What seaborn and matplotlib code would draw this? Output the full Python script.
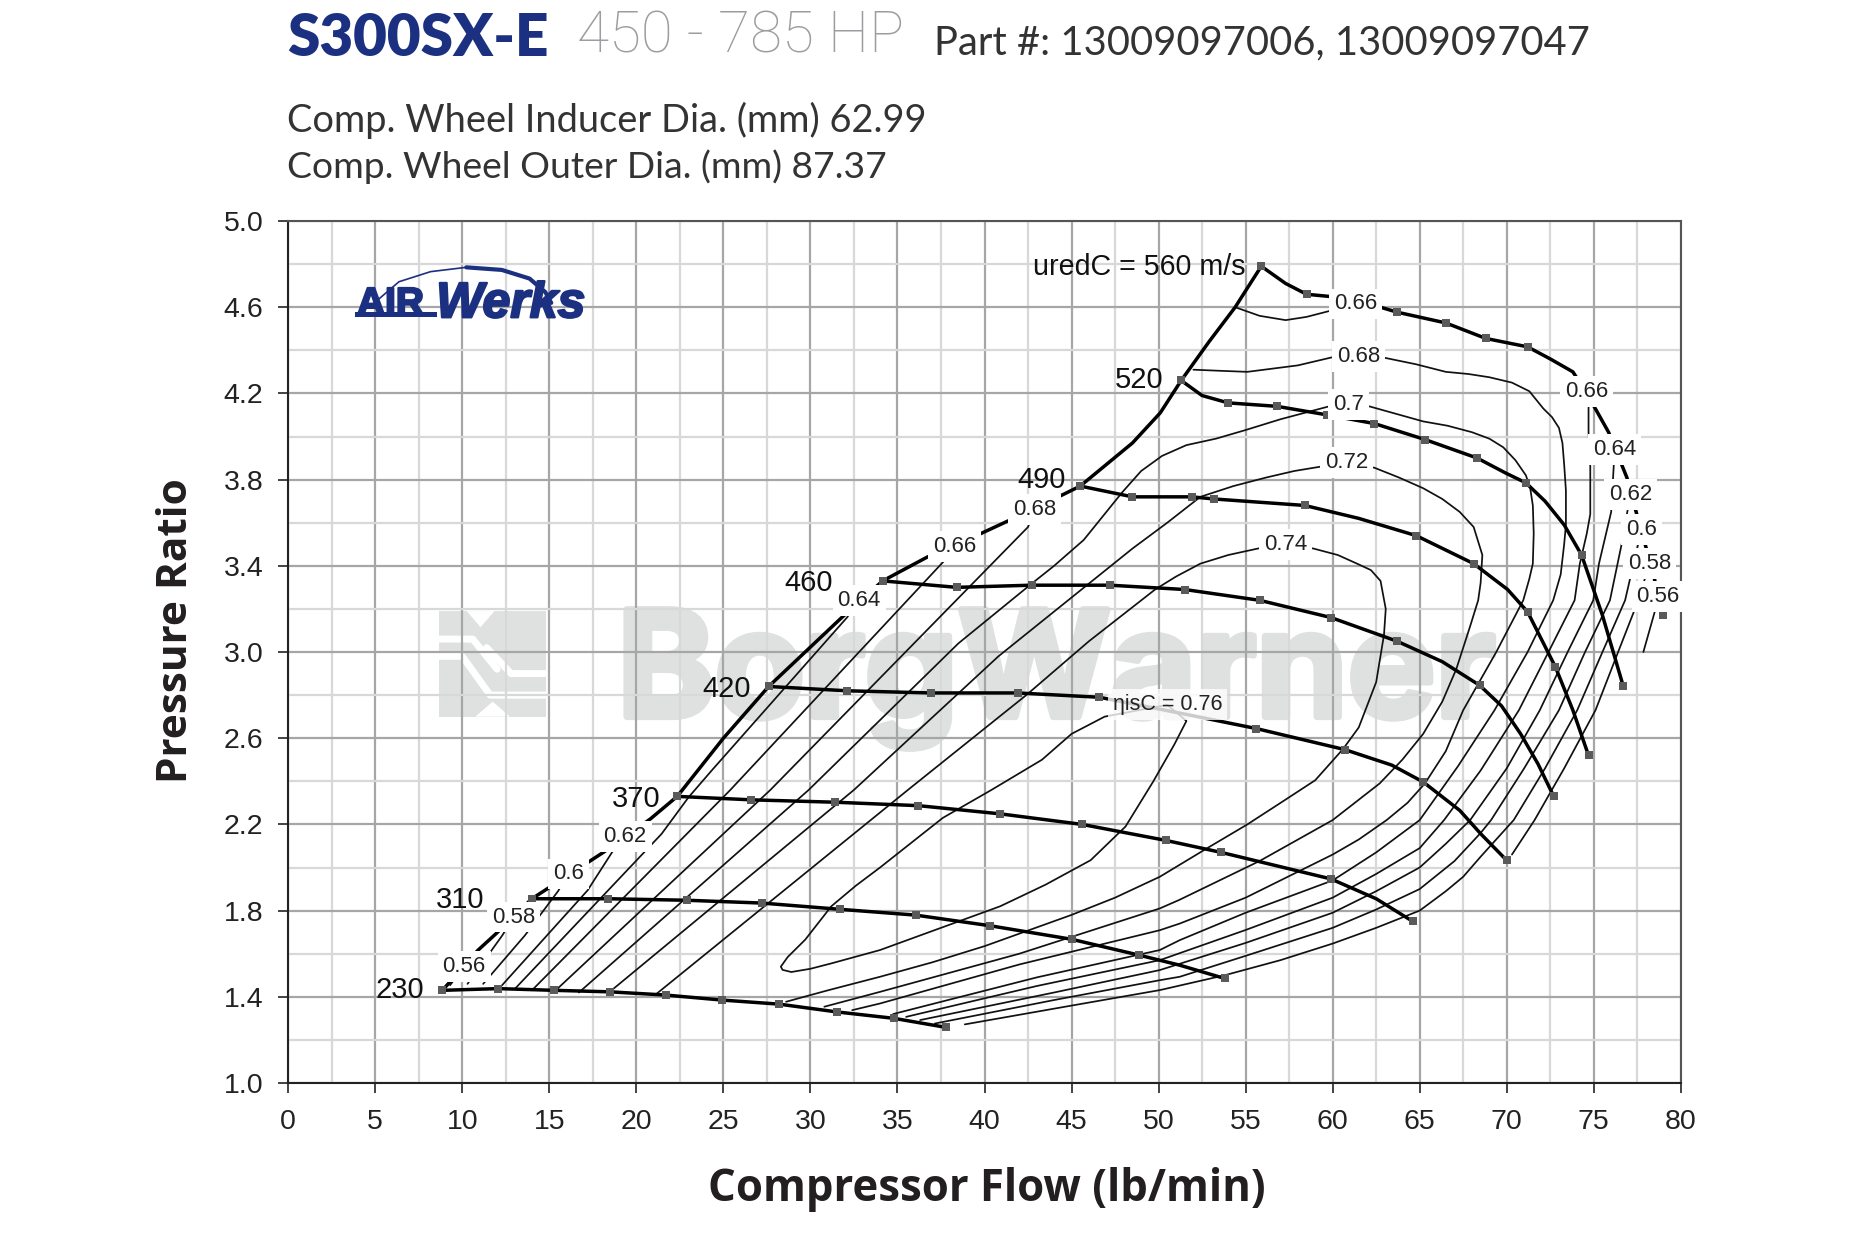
import numpy as np
import pandas as pd
import matplotlib
matplotlib.use('Agg')
import matplotlib.pyplot as plt
import matplotlib.patheffects as pe
from matplotlib.patches import Rectangle, Polygon
import seaborn as sns

# compressor speed lines
speed_230_x = [8.86, 12.07, 15.28, 18.5, 21.7, 24.9, 28.2, 31.5, 34.8, 37.8]
speed_230_y = [1.43, 1.438, 1.43, 1.423, 1.408, 1.385, 1.366, 1.33, 1.30, 1.258]
speed_310_x = [14.0, 18.4, 22.9, 27.2, 31.7, 36.05, 40.3, 45.0, 48.9, 51.2, 53.8]
speed_310_y = [1.855, 1.855, 1.848, 1.835, 1.806, 1.779, 1.73, 1.667, 1.593, 1.547, 1.485]
speed_370_x = [22.35, 26.6, 31.4, 36.2, 40.9, 45.6, 50.4, 53.6, 59.9, 62.5, 63.6, 64.6]
speed_370_y = [2.33, 2.314, 2.303, 2.287, 2.249, 2.2, 2.126, 2.07, 1.947, 1.855, 1.80, 1.75]
speed_420_x = [27.6, 32.1, 36.9, 41.9, 46.6, 51.0, 55.6, 60.7, 63.4, 65.2, 67.3, 68.5, 70.0]
speed_420_y = [2.84, 2.82, 2.81, 2.81, 2.79, 2.72, 2.645, 2.547, 2.475, 2.397, 2.265, 2.157, 2.033]
speed_460_x = [34.15, 38.4, 42.7, 47.2, 51.5, 55.8, 59.9, 63.7, 66.3, 68.45, 69.7, 70.8, 71.8, 72.7]
speed_460_y = [3.33, 3.30, 3.31, 3.31, 3.29, 3.24, 3.16, 3.05, 2.955, 2.845, 2.75, 2.62, 2.48, 2.33]
speed_490_x = [45.5, 48.5, 51.9, 53.2, 58.4, 61.5, 64.8, 68.1, 70.05, 71.2, 72.8, 73.8, 74.7]
speed_490_y = [3.77, 3.72, 3.72, 3.71, 3.68, 3.62, 3.54, 3.41, 3.29, 3.186, 2.93, 2.73, 2.52]
speed_520_x = [51.3, 52.5, 54.0, 56.8, 59.7, 62.4, 65.3, 68.3, 69.95, 71.1, 72.2, 73.3, 74.3, 75.5, 76.7]
speed_520_y = [4.26, 4.19, 4.156, 4.14, 4.10, 4.06, 3.986, 3.90, 3.83, 3.785, 3.70, 3.59, 3.45, 3.17, 2.84]
speed_560_x = [55.9, 57.3, 58.5, 59.8, 61.5, 63.7, 66.5, 68.8, 71.2, 72.5, 73.8, 74.6, 75.85, 76.9, 77.6, 78.3, 79.0]
speed_560_y = [4.79, 4.71, 4.66, 4.65, 4.63, 4.577, 4.527, 4.455, 4.416, 4.36, 4.30, 4.2, 4.02, 3.81, 3.6, 3.4, 3.17]
# points on the lines that carry no square
unmarked_x = [62.5, 63.6, 51.0, 63.4, 67.3, 68.5, 66.3, 69.7, 70.8, 71.8, 70.05, 69.95, 73.8, 52.5, 72.2, 73.3, 75.5,
              57.3, 59.8, 61.5, 72.5, 74.6, 75.85, 76.9, 77.6, 78.3, 51.2]

surge_x = [8.86, 10.9, 11.9, 14.0, 18.1, 20.8, 22.35, 25.0, 27.6, 31.8, 34.15, 36.7, 39.8, 41.4, 44.5, 45.5, 47.0,
           48.5, 50.1, 51.3, 52.9, 54.4, 55.9]
surge_y = [1.43, 1.616, 1.69, 1.855, 2.07, 2.225, 2.33, 2.6, 2.84, 3.16, 3.33, 3.44, 3.55, 3.61, 3.73, 3.77, 3.87,
           3.97, 4.11, 4.26, 4.44, 4.6, 4.79]

# efficiency islands
eff_056_a_x = [9.3, 10.1]
eff_056_a_y = [1.454, 1.54]
eff_056_b_x = [77.85, 78.5, 78.7]
eff_056_b_y = [3.0, 3.186, 3.256]
eff_058_a_x = [10.3, 12.3, 12.95]
eff_058_a_y = [1.46, 1.685, 1.77]
eff_058_b_x = [70.3, 71.6, 73.3, 75.1, 76.4, 77.56, 78.2]
eff_058_b_y = [2.06, 2.22, 2.46, 2.73, 3.0, 3.24, 3.41]
eff_060_a_x = [11.2, 13.6, 15.5, 16.1]
eff_060_a_y = [1.46, 1.685, 1.89, 1.97]
eff_060_b_x = [38.87, 44.0, 50.07, 53.8, 57.0, 60.0, 62.5, 65.0, 66.5, 67.5, 68.5, 70.4, 72.2, 74.05, 75.5, 76.8,
               77.1, 77.75]
eff_060_b_y = [1.272, 1.345, 1.431, 1.50, 1.57, 1.647, 1.72, 1.80, 1.89, 1.957, 2.05, 2.22, 2.46, 2.73, 3.0, 3.24,
               3.345, 3.57]
eff_062_a_x = [12.2, 17.2, 18.6, 19.35]
eff_062_a_y = [1.446, 1.894, 2.07, 2.145]
eff_062_b_x = [37.15, 44.0, 50.07, 51.22, 55.0, 60.0, 62.5, 65.0, 67.0, 68.5, 69.1, 71.0, 73.0, 74.5, 75.93, 76.6,
               77.1]
eff_062_b_y = [1.276, 1.385, 1.477, 1.493, 1.59, 1.72, 1.805, 1.90, 2.03, 2.16, 2.22, 2.46, 2.73, 3.0, 3.24, 3.5,
               3.73]
eff_064_a_x = [13.0, 21.45, 23.0, 24.37, 32.1, 32.8]
eff_064_a_y = [1.435, 2.156, 2.326, 2.454, 3.16, 3.24]
eff_064_b_x = [36.3, 44.0, 50.07, 55.0, 60.0, 62.5, 65.0, 66.5, 67.9, 70.0, 71.9, 73.5, 74.97, 75.3, 76.0, 76.2]
eff_064_b_y = [1.292, 1.42, 1.524, 1.65, 1.79, 1.89, 2.0, 2.11, 2.22, 2.46, 2.73, 3.0, 3.24, 3.41, 3.65, 3.94]
eff_066_a_x = [14.0, 25.4, 37.65, 38.3]
eff_066_a_y = [1.43, 2.36, 3.42, 3.49]
eff_066_b_x = [54.4, 55.8, 57.3, 58.5, 59.7, 61.3]
eff_066_b_y = [4.6, 4.56, 4.54, 4.555, 4.58, 4.615]
eff_066_c_x = [35.5, 43.0, 50.07, 55.0, 60.0, 62.5, 65.0, 66.4, 68.5, 70.7, 72.4, 73.9, 74.2, 74.6, 74.8, 74.8, 74.7,
               74.7, 74.6]
eff_066_c_y = [1.307, 1.45, 1.57, 1.71, 1.86, 1.97, 2.09, 2.22, 2.45, 2.73, 3.0, 3.24, 3.41, 3.55, 3.64, 3.86, 4.02,
               4.14, 4.21]
eff_068_a_x = [15.3, 27.7, 42.5, 42.9]
eff_068_a_y = [1.425, 2.36, 3.58, 3.66]
eff_068_b_x = [34.75, 43.0, 50.07, 51.22, 55.0, 60.0, 62.5, 65.0, 67.2, 69.3, 71.2, 72.67, 73.1, 73.3, 73.4, 73.4,
               73.3, 73.2, 73.0, 72.6, 72.1, 71.3, 70.3, 69.0, 67.8, 66.5, 64.8, 63.0, 61.5, 60.1, 58.0, 55.1, 53.5,
               52.0]
eff_068_b_y = [1.32, 1.49, 1.617, 1.663, 1.79, 1.94, 2.07, 2.22, 2.47, 2.73, 3.0, 3.24, 3.36, 3.5, 3.59, 3.75,
               3.87, 3.97, 4.04, 4.09, 4.13, 4.21, 4.25, 4.275, 4.29, 4.30, 4.335, 4.365, 4.37, 4.37, 4.33, 4.30,
               4.305, 4.31]
eff_070_x = [32.4, 34.0, 42.0, 50.07, 51.22, 55.0, 60.0, 61.5, 63.1, 64.3, 65.3, 66.5, 67.5, 69.4, 70.95, 71.3, 71.5,
             71.55, 71.5, 71.35, 71.1, 70.5, 69.8, 69.0, 68.0, 66.6, 65.2, 62.1, 60.9, 59.8, 57.0, 55.0, 53.3, 51.6,
             50.2, 49.0, 47.9, 46.8, 45.7, 44.0, 42.6, 38.5, 29.9, 16.7]
eff_070_y = [1.338, 1.369, 1.55, 1.709, 1.74, 1.86, 2.06, 2.13, 2.22, 2.3, 2.39, 2.54, 2.73, 3.0, 3.24, 3.34, 3.41,
             3.55, 3.68, 3.76, 3.82, 3.89, 3.95, 3.99, 4.02, 4.05, 4.07, 4.14, 4.15, 4.14, 4.08, 4.03, 3.99, 3.96,
             3.91, 3.84, 3.74, 3.63, 3.52, 3.40, 3.31, 3.04, 2.36, 1.42]
eff_072_x = [30.8, 34.0, 42.0, 50.07, 51.2, 55.8, 60.0, 62.7, 64.0, 65.2, 66.3, 67.1, 67.9, 68.36, 68.5, 68.6, 68.1,
             67.3, 66.3, 65.2, 63.8, 62.4, 60.8, 59.3, 57.8, 56.2, 54.3, 52.4, 50.5, 48.5, 40.8, 32.5, 18.5]
eff_072_y = [1.354, 1.423, 1.60, 1.81, 1.85, 2.03, 2.22, 2.39, 2.5, 2.62, 2.77, 2.92, 3.12, 3.24, 3.32, 3.45, 3.58,
             3.65, 3.71, 3.76, 3.81, 3.855, 3.88, 3.86, 3.84, 3.81, 3.77, 3.72, 3.6, 3.48, 2.98, 2.36, 1.425]
eff_074_x = [28.6, 31.0, 34.0, 37.0, 40.0, 45.0, 47.5, 50.07, 52.8, 55.1, 57.2, 59.0, 60.6, 61.5, 62.5, 62.95, 63.05,
             62.75, 62.2, 61.4, 60.3, 58.9, 57.3, 55.7, 54.0, 52.4, 51.0, 49.8, 46.0, 42.4, 35.6, 21.1]
eff_074_y = [1.377, 1.43, 1.493, 1.56, 1.635, 1.78, 1.86, 1.957, 2.09, 2.2, 2.31, 2.405, 2.55, 2.65, 2.86, 3.08, 3.2,
             3.33, 3.38, 3.41, 3.45, 3.48, 3.50, 3.48, 3.45, 3.41, 3.35, 3.29, 3.05, 2.80, 2.36, 1.41]
eff_076_x = [50.5, 46.9, 45.0, 43.3, 40.4, 37.6, 34.0, 32.6, 31.2, 29.7, 28.7, 28.3, 28.4, 28.9, 30.0, 31.2, 34.0,
             37.5, 40.9, 43.5, 46.1, 48.1, 49.7, 50.9, 51.6, 50.5]
eff_076_y = [2.755, 2.70, 2.62, 2.5, 2.36, 2.23, 2.0, 1.915, 1.82, 1.665, 1.585, 1.54, 1.525, 1.515, 1.53, 1.555,
             1.617, 1.72, 1.82, 1.92, 2.034, 2.19, 2.40, 2.57, 2.68, 2.755]

# logo arc
arc_left_x = [4.66, 6.36, 8.18, 10.23]
arc_left_y = [4.6, 4.718, 4.765, 4.785]
arc_right_x = [10.23, 12.27, 13.86, 14.77, 15.11]
arc_right_y = [4.785, 4.773, 4.733, 4.67, 4.62]

# label tables
eff_labels = ['0.56', '0.58', '0.6', '0.62', '0.64', '0.66', '0.68', '0.66', '0.68', '0.7', '0.72', '0.74',
              '0.66', '0.64', '0.62', '0.6', '0.58', '0.56']
eff_label_x = [10.1, 12.95, 16.1, 19.35, 32.8, 38.3, 42.9, 61.3, 61.5, 60.9, 60.8, 57.3,
               74.6, 76.2, 77.1, 77.75, 78.2, 78.7]
eff_label_y = [1.54, 1.77, 1.97, 2.145, 3.24, 3.49, 3.66, 4.615, 4.37, 4.15, 3.88, 3.50,
               4.21, 3.94, 3.73, 3.57, 3.41, 3.256]
speed_labels = ['230', '310', '370', '420', '460', '490', '520']
speed_label_x = [6.4, 9.9, 20.0, 25.2, 29.9, 43.3, 48.9]
speed_label_y = [1.43, 1.85, 2.32, 2.83, 3.32, 3.80, 4.26]

x_ticks = np.arange(0, 81, 5)
y_ticks = np.arange(1.0, 5.01, 0.4)


def curve_table(curves):
    # long table for seaborn, one "units" value per curve
    rows = [pd.DataFrame({'curve': name, 'flow': xs, 'pr': ys}) for name, xs, ys in curves]
    return pd.concat(rows, ignore_index=True)


speed_df = curve_table([
    ('230', speed_230_x, speed_230_y), ('310', speed_310_x, speed_310_y),
    ('370', speed_370_x, speed_370_y), ('420', speed_420_x, speed_420_y),
    ('460', speed_460_x, speed_460_y), ('490', speed_490_x, speed_490_y),
    ('520', speed_520_x, speed_520_y), ('560', speed_560_x, speed_560_y),
    ('surge', surge_x, surge_y),
])
eff_df = curve_table([
    ('056a', eff_056_a_x, eff_056_a_y), ('056b', eff_056_b_x, eff_056_b_y),
    ('058a', eff_058_a_x, eff_058_a_y), ('058b', eff_058_b_x, eff_058_b_y),
    ('060a', eff_060_a_x, eff_060_a_y), ('060b', eff_060_b_x, eff_060_b_y),
    ('062a', eff_062_a_x, eff_062_a_y), ('062b', eff_062_b_x, eff_062_b_y),
    ('064a', eff_064_a_x, eff_064_a_y), ('064b', eff_064_b_x, eff_064_b_y),
    ('066a', eff_066_a_x, eff_066_a_y), ('066b', eff_066_b_x, eff_066_b_y),
    ('066c', eff_066_c_x, eff_066_c_y), ('068a', eff_068_a_x, eff_068_a_y),
    ('068b', eff_068_b_x, eff_068_b_y), ('070', eff_070_x, eff_070_y),
    ('072', eff_072_x, eff_072_y), ('074', eff_074_x, eff_074_y),
    ('076', eff_076_x, eff_076_y),
])

sns.set_theme(style='white')
plt.rcParams['font.family'] = ['Liberation Sans', 'DejaVu Sans']

fig = plt.figure(figsize=(18.6, 12.4), dpi=100)
ax = fig.add_axes([288.2 / 1860, 1 - 1083 / 1240, 1392.6 / 1860, 862 / 1240])

# grid
ax.set_xlim(0, 80)
ax.set_ylim(1, 5)
ax.set_xticks(x_ticks)
ax.set_xticks(np.arange(0, 81, 2.5), minor=True)
ax.set_yticks(y_ticks)
ax.set_yticks(np.arange(1.0, 5.01, 0.2), minor=True)
ax.set_yticklabels([f'{t:.1f}' for t in y_ticks])
ax.set_axisbelow(True)
ax.grid(which='minor', color='#d8d8d8', lw=1.6)
ax.grid(which='major', color='#a6a6a6', lw=1.6)
ax.tick_params(which='major', direction='out', length=7, width=1.2, color='#222222',
               labelsize=20.5, labelcolor='#222222', left=True, bottom=True)
ax.tick_params(axis='x', which='major', pad=12)
ax.tick_params(axis='y', which='major', pad=11)
ax.tick_params(which='minor', length=0)
for name, spine in ax.spines.items():
    spine.set_color('#222222' if name in ('left', 'bottom') else '#555555')
    spine.set_linewidth(1.5)

# BorgWarner watermark
wm = '#dfe1e0'
ax.text(18.9, 2.70, 'BorgWarner', fontsize=106, family=['Inter', 'Liberation Sans'], fontweight='bold',
        color=wm, va='baseline', ha='left', zorder=0.2,
        path_effects=[pe.withStroke(linewidth=5, foreground=wm)])
ax.add_patch(Rectangle((8.65, 2.70), 6.15, 0.49, color=wm, lw=0, zorder=0.2))
ax.plot([8.65, 10.6, 12.0], [3.06, 3.06, 2.92], color='white', lw=5, zorder=0.3)
ax.plot([8.65, 10.0, 11.6, 13.2, 14.8], [2.98, 2.98, 2.80, 2.80, 2.80], color='white', lw=5, zorder=0.3)
ax.plot([11.4, 12.8, 14.8], [3.02, 2.90, 2.90], color='white', lw=5, zorder=0.3)
ax.add_patch(Polygon([[10.26, 3.19], [11.85, 3.19], [11.05, 3.115]], color='white', lw=0, zorder=0.3))
ax.add_patch(Polygon([[10.75, 2.70], [12.74, 2.70], [11.75, 2.77]], color='white', lw=0, zorder=0.3))

# AIRWerks logo
navy = '#1b3080'
heavy = [pe.withStroke(linewidth=1.6, foreground=navy)]
ax.text(3.95, 4.565, 'AIR', fontsize=28, family='Liberation Sans', fontweight='bold', color=navy,
        va='baseline', ha='left', zorder=2, path_effects=heavy)
ax.text(8.5, 4.553, 'Werks', fontsize=36, family='Liberation Sans', fontweight='bold', style='italic',
        color=navy, va='baseline', ha='left', zorder=2, path_effects=heavy)
ax.add_patch(Rectangle((3.86, 4.553), 4.7, 0.025, color=navy, lw=0, zorder=2))
sns.lineplot(x=arc_left_x, y=arc_left_y, sort=False, estimator=None, color=navy, linewidth=1.2, ax=ax, zorder=2)
sns.lineplot(x=arc_right_x, y=arc_right_y, sort=False, estimator=None, color=navy, linewidth=3.0, ax=ax, zorder=2)

# curves
sns.lineplot(data=eff_df, x='flow', y='pr', units='curve', estimator=None, sort=False,
             color='#111111', linewidth=1.25, ax=ax, zorder=3)
sns.lineplot(data=speed_df, x='flow', y='pr', units='curve', estimator=None, sort=False,
             color='#000000', linewidth=2.5, ax=ax, zorder=4)
marks = speed_df[(speed_df['curve'] != 'surge') & ~speed_df['flow'].isin(unmarked_x)]
sns.scatterplot(data=marks, x='flow', y='pr', marker='s', s=28, color='#5a5a5a', linewidth=0, ax=ax, zorder=5)

# labels cut the curves
box = dict(facecolor='white', edgecolor='none', pad=3.5)
for txt, lx, ly in zip(eff_labels, eff_label_x, eff_label_y):
    ax.text(lx, ly, txt, fontsize=16, color='#222222', ha='center', va='center', bbox=box, zorder=6)
ax.text(50.5, 2.755, 'ηisC = 0.76', fontsize=15.5, color='#222222', ha='center', va='center',
        bbox=dict(facecolor='white', edgecolor='none', pad=3.5, alpha=0.8), zorder=6)
for txt, lx, ly in zip(speed_labels, speed_label_x, speed_label_y):
    ax.text(lx, ly, txt, fontsize=21, color='#111111', ha='center', va='center', zorder=6)
ax.text(48.9, 4.785, 'uredC = 560 m/s', fontsize=20.6, color='#111111', ha='center', va='center', zorder=6)

ax.set_xlabel('')
ax.set_ylabel('')
fig.text(987 / 1860, 1 - 1189 / 1240, 'Compressor Flow (lb/min)', fontsize=31.5, family='Open Sans', fontweight='bold',
         color='#231f20', ha='center', va='center')
fig.text(176 / 1860, 1 - 631 / 1240, 'Pressure Ratio', fontsize=30.5, family='Open Sans', fontweight='bold',
         color='#231f20', ha='center', va='center', rotation=90)

# heading
fig.text(287 / 1860, 1 - 39 / 1240, 'S300SX-E', fontsize=42, family='Lato', fontweight='heavy',
         color=navy, ha='left', va='center')
fig.text(577 / 1860, 1 - 37 / 1240, '450 - 785 HP', fontsize=42, family='Roboto', fontweight='light',
         color='#9b9da0', ha='left', va='center')
fig.text(934 / 1860, 1 - 43 / 1240, 'Part #: 13009097006, 13009097047', fontsize=28.7, family='Lato',
         color='#333333', ha='left', va='center')
fig.text(287 / 1860, 1 - 120 / 1240, 'Comp. Wheel Inducer Dia. (mm) 62.99', fontsize=27.4, family='Lato',
         color='#333333', ha='left', va='center')
fig.text(287 / 1860, 1 - 167 / 1240, 'Comp. Wheel Outer Dia. (mm) 87.37', fontsize=26.8, family='Lato',
         color='#333333', ha='left', va='center')

fig.savefig('out.png', dpi=100)
